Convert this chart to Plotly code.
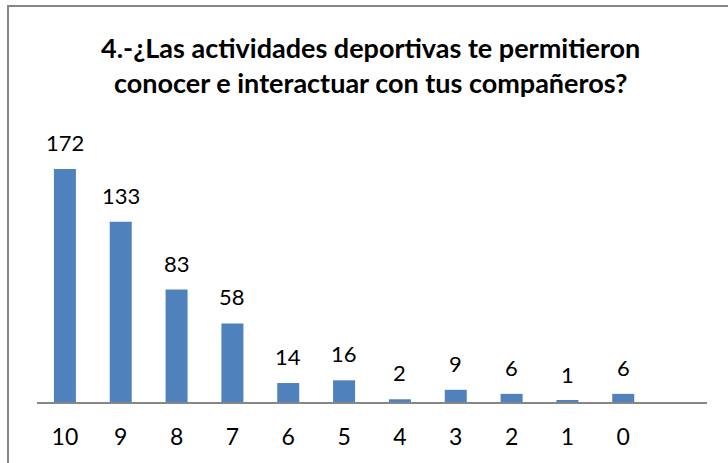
import plotly.graph_objects as go

categories = ["10", "9", "8", "7", "6", "5", "4", "3", "2", "1", "0"]
values = [172, 133, 83, 58, 14, 16, 2, 9, 6, 1, 6]
title_lines = ["4.-¿Las actividades deportivas te permitieron",
               "conocer e interactuar con tus compañeros?"]

W, H = 728, 463
L, R, T, B = 37, 21, 131, 61
pw, ph = W - L - R, H - T - B

def px(x):
    return (x - L) / pw

def py(y):
    return (H - B - y) / ph

font_family = "Lato, Open Sans, sans-serif"

fig = go.Figure()
fig.add_trace(go.Bar(
    x=categories, y=values,
    marker=dict(color="#4F81BD", line=dict(width=0)),
    width=0.394,
    hoverinfo="x+y",
))

for i, v in enumerate(values):
    fig.add_annotation(x=i, y=v, text=str(v), showarrow=False,
                       xref="x", yref="y", yanchor="bottom", yshift=11,
                       font=dict(family=font_family, size=22, color="#000000"))

fig.add_annotation(x=0.4985, y=py(48), xref="paper", yref="paper",
                   text="<b>" + title_lines[0] + "</b>", showarrow=False,
                   xanchor="center", yanchor="middle",
                   font=dict(family=font_family, size=27, color="#000000"))
fig.add_annotation(x=0.4985, y=py(82), xref="paper", yref="paper",
                   text="<b>" + title_lines[1] + "</b>", showarrow=False,
                   xanchor="center", yanchor="middle",
                   font=dict(family=font_family, size=27, color="#000000"))

# chart frame (cropped at right and bottom)
fig.add_shape(type="rect", xref="paper", yref="paper",
              x0=px(8), y0=py(490), x1=px(760), y1=py(6),
              line=dict(color="#868686", width=2), fillcolor="rgba(0,0,0,0)",
              layer="below")

fig.update_layout(
    width=W, height=H,
    margin=dict(l=L, r=R, t=T, b=B),
    paper_bgcolor="white", plot_bgcolor="white",
    showlegend=False,
    font=dict(family=font_family, size=22, color="#000000"),
    xaxis=dict(type="category", range=[-0.5, 11.5], showline=True,
               linecolor="#868686", linewidth=2, ticks="", showgrid=False,
               zeroline=False, tickfont=dict(size=23, color="#000000"),
               ticklabelstandoff=13, fixedrange=True, automargin=False),
    yaxis=dict(range=[0, 200], visible=False, showgrid=False, zeroline=False,
               fixedrange=True),
    bargap=0.6,
)

fig.write_html("out.html",
               config={"displayModeBar": False},
               post_script="document.body.style.margin='0';document.body.style.overflow='hidden';")
